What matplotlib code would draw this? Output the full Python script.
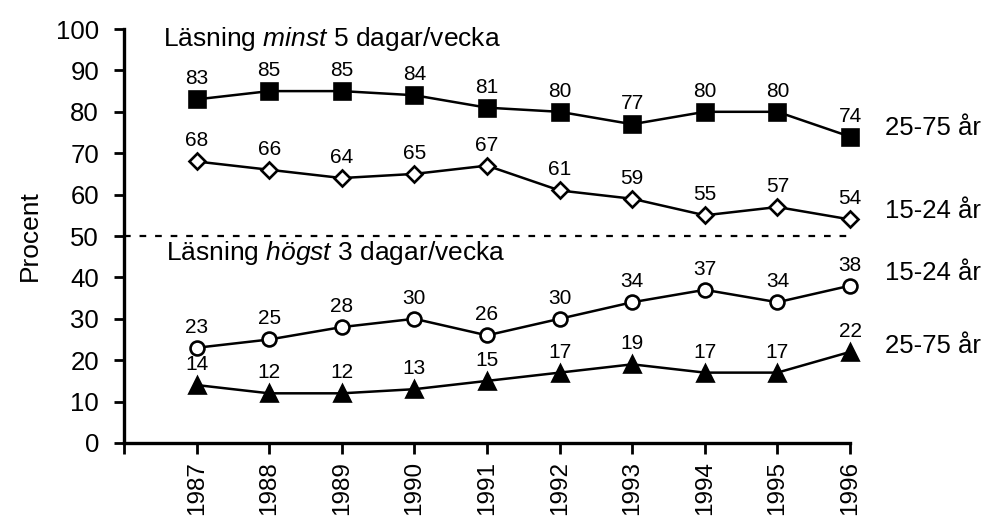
import matplotlib
matplotlib.use("Agg")
import matplotlib.pyplot as plt

plt.rcParams.update({
    'font.family': ['Liberation Sans', 'DejaVu Sans'],
    'mathtext.fontset': 'custom',
    'mathtext.rm': 'Liberation Sans',
    'mathtext.it': 'Liberation Sans:italic',
    'font.size': 18,
})

years = [1987, 1988, 1989, 1990, 1991, 1992, 1993, 1994, 1995, 1996]
minst_25_75 = [83, 85, 85, 84, 81, 80, 77, 80, 80, 74]
minst_15_24 = [68, 66, 64, 65, 67, 61, 59, 55, 57, 54]
hogst_15_24 = [23, 25, 28, 30, 26, 30, 34, 37, 34, 38]
hogst_25_75 = [14, 12, 12, 13, 15, 17, 19, 17, 17, 22]

series = [
    (minst_25_75, 's', 'black', 11, '25-75 år', 76),
    (minst_15_24, 'D', 'white', 8, '15-24 år', 56),
    (hogst_15_24, 'o', 'white', 10, '15-24 år', 41),
    (hogst_25_75, '^', 'black', 11, '25-75 år', 23.5),
]

fig = plt.figure(figsize=(9.86, 5.18), dpi=100)
ax = fig.add_axes([0.1258, 0.1448, 0.7363, 0.7992])

for vals, marker, face, ms, label, ypos in series:
    ax.plot(years, vals, color='black', lw=1.8, marker=marker, ms=ms,
            mfc=face, mec='black', mew=1.9, zorder=3, clip_on=False)
    for x, v in zip(years, vals):
        ax.annotate(str(v), (x, v), xytext=(0, 8), textcoords='offset points',
                    ha='center', va='bottom', fontsize=15)
    ax.text(1996.48, ypos, label, ha='left', va='center', fontsize=18.5,
            clip_on=False)

ax.plot([1986, 1996], [50, 50], color='black', lw=1.6,
        linestyle=(0, (3, 4)), zorder=2)

ax.text(1986.54, 97.5, r'Läsning $\it{minst}$ 5 dagar/vecka', ha='left',
        va='center', fontsize=19)
ax.text(1986.58, 46, r'Läsning $\it{högst}$ 3 dagar/vecka', ha='left',
        va='center', fontsize=19)

ax.set_xlim(1986, 1996)
ax.set_ylim(0, 100)
ax.set_xticks(range(1986, 1997))
ax.set_xticklabels([''] + [str(y) for y in years], rotation=90)
ax.set_yticks(range(0, 101, 10))
# year labels run to the bottom edge in the original, keep them just inside
ax.tick_params(axis='x', direction='out', length=8, width=2, pad=5,
               labelsize=17.5)
ax.tick_params(axis='y', direction='out', length=7, width=2, pad=11,
               labelsize=18.5)
ax.set_ylabel('Procent', fontsize=19, labelpad=10)

for side in ['top', 'right']:
    ax.spines[side].set_visible(False)
for side in ['left', 'bottom']:
    ax.spines[side].set_linewidth(2.4)

fig.savefig('out.png', dpi=100)
